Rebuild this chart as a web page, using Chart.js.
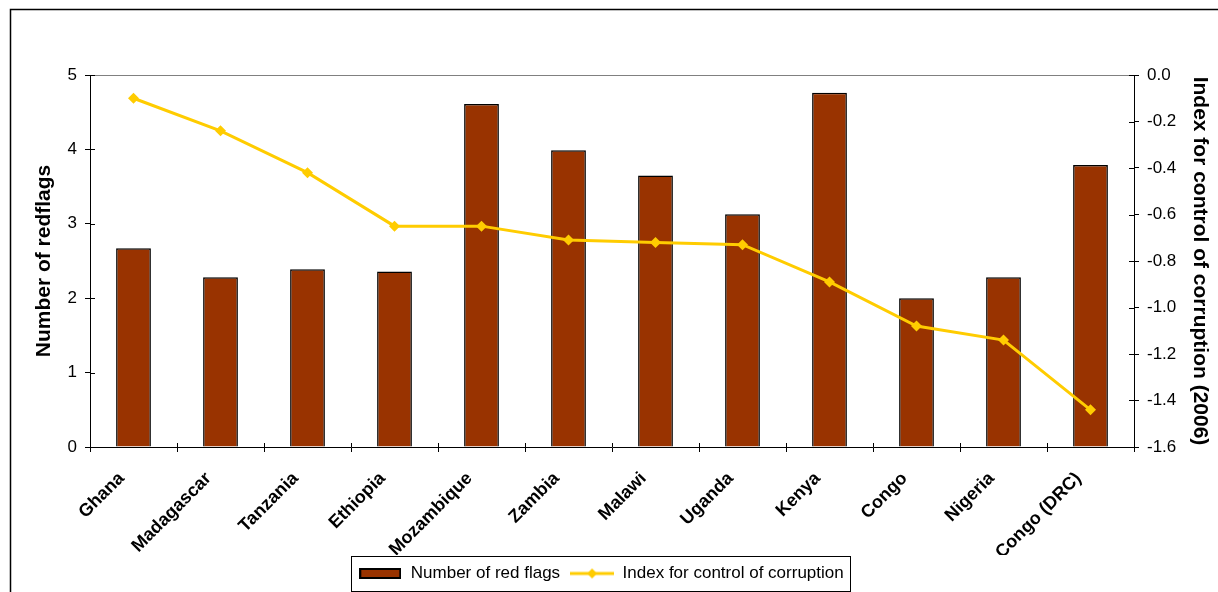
<!DOCTYPE html>
<html>
<head>
<meta charset="utf-8">
<script src="https://cdn.jsdelivr.net/npm/chart.js@4.4.1/dist/chart.umd.min.js"></script>
<style>
  html, body { margin: 0; padding: 0; background: #fff; }
  #wrap { width: 1218px; height: 592px; }
</style>
</head>
<body>
<div id="wrap"><canvas id="chart"></canvas></div>
<script>
// values
const countries = ['Ghana', 'Madagascar', 'Tanzania', 'Ethiopia', 'Mozambique', 'Zambia',
    'Malawi', 'Uganda', 'Kenya', 'Congo', 'Nigeria', 'Congo (DRC)'];
const redFlags = [2.67, 2.28, 2.39, 2.36, 4.61, 3.99, 3.65, 3.13, 4.76, 2.0, 2.28, 3.79];
const corruptionIndex = [-0.10, -0.24, -0.42, -0.65, -0.65, -0.71, -0.72, -0.73, -0.89, -1.08, -1.14, -1.44];
const leftTicks = [0, 1, 2, 3, 4, 5];
const rightTicks = [0, -0.2, -0.4, -0.6, -0.8, -1.0, -1.2, -1.4, -1.6];

const BAR_COLOR = '#993300';
const LINE_COLOR = '#FFCC00';
const FONT = "'Liberation Sans', Arial, sans-serif";

// small canvases used as legend symbols
function makeBarSymbol() {
    const c = document.createElement('canvas');
    c.width = 42; c.height = 11;
    const g = c.getContext('2d');
    g.fillStyle = BAR_COLOR;
    g.fillRect(1, 1, 40, 9);
    g.strokeStyle = '#000';
    g.lineWidth = 2;
    g.strokeRect(1, 1, 40, 9);
    return c;
}

function makeLineSymbol() {
    const c = document.createElement('canvas');
    c.width = 44; c.height = 12;
    const g = c.getContext('2d');
    g.strokeStyle = LINE_COLOR;
    g.lineWidth = 3;
    g.beginPath();
    g.moveTo(0, 6);
    g.lineTo(44, 6);
    g.stroke();
    g.fillStyle = LINE_COLOR;
    g.beginPath();
    g.moveTo(22, 1); g.lineTo(27, 6); g.lineTo(22, 11); g.lineTo(17, 6);
    g.closePath();
    g.fill();
    return c;
}

const barSymbol = makeBarSymbol();
const lineSymbol = makeLineSymbol();

// frame, plot top border, inner halves of tick marks, legend box
const decorations = {
    id: 'decorations',
    afterDraw(chart) {
        const ctx = chart.ctx;
        const area = chart.chartArea;
        const x = chart.scales.x;
        const y = chart.scales.y;
        const y1 = chart.scales.y1;
        ctx.save();

        // outer frame (runs off the right and bottom edges)
        ctx.strokeStyle = '#000';
        ctx.lineWidth = 1.5;
        ctx.beginPath();
        ctx.moveTo(10.5, chart.height + 2);
        ctx.lineTo(10.5, 9.5);
        ctx.lineTo(chart.width + 2, 9.5);
        ctx.stroke();

        // top edge of plot area
        ctx.strokeStyle = '#808080';
        ctx.lineWidth = 1;
        ctx.beginPath();
        ctx.moveTo(area.left, area.top + 0.5);
        ctx.lineTo(area.right, area.top + 0.5);
        ctx.stroke();

        // tick marks crossing into the plot
        ctx.strokeStyle = '#000';
        ctx.beginPath();
        leftTicks.forEach(v => {
            const py = Math.round(y.getPixelForValue(v)) + 0.5;
            ctx.moveTo(area.left, py);
            ctx.lineTo(area.left + 5, py);
        });
        rightTicks.forEach(v => {
            const py = Math.round(y1.getPixelForValue(v)) + 0.5;
            ctx.moveTo(area.right, py);
            ctx.lineTo(area.right - 5, py);
        });
        const half = (x.getPixelForValue(1) - x.getPixelForValue(0)) / 2;
        for (let i = 0; i <= countries.length; i++) {
            const px = Math.round(x.getPixelForValue(i) - half) + 0.5;
            ctx.moveTo(px, area.bottom);
            ctx.lineTo(px, area.bottom - 4);
        }
        ctx.stroke();

        // box round the legend
        const boxes = chart.legend.legendHitBoxes;
        if (boxes && boxes.length) {
            const l = Math.min(...boxes.map(b => b.left)) - 7;
            const r = Math.max(...boxes.map(b => b.left + b.width)) + 7;
            const t = Math.min(...boxes.map(b => b.top)) - 9;
            const b = Math.max(...boxes.map(b => b.top + b.height)) + 9;
            ctx.lineWidth = 1;
            ctx.strokeRect(Math.round(l) + 0.5, Math.round(t) + 0.5, Math.round(r - l), Math.round(b - t));
        }
        ctx.restore();
    }
};

new Chart(document.getElementById('chart'), {
    data: {
        labels: countries,
        datasets: [
            {
                type: 'bar',
                label: 'Number of red flags',
                data: redFlags,
                yAxisID: 'y',
                backgroundColor: BAR_COLOR,
                borderColor: '#000',
                borderWidth: 1.5,
                barPercentage: 0.4,
                categoryPercentage: 1.0,
                order: 1,
            },
            {
                type: 'line',
                label: 'Index for control of corruption',
                data: corruptionIndex,
                yAxisID: 'y1',
                borderColor: LINE_COLOR,
                backgroundColor: LINE_COLOR,
                borderWidth: 3,
                pointStyle: 'rectRot',
                pointRadius: 5.5,
                pointBorderWidth: 0,
                tension: 0,
                order: 0,
            }
        ]
    },
    options: {
        responsive: true,
        maintainAspectRatio: false,
        animation: false,
        // uneven side padding moves the legend centre left to where it sits in the original
        layout: {
            padding: { left: 0, top: 75, right: 16, bottom: 0 },
        },
        plugins: {
            tooltip: { enabled: false },
            legend: {
                position: 'bottom',
                onClick: null,
                labels: {
                    usePointStyle: true,
                    pointStyleWidth: 44,
                    boxHeight: 17,
                    padding: 10,
                    color: '#000',
                    font: { family: FONT, size: 17 },
                    generateLabels: () => [
                        { text: 'Number of red flags', pointStyle: barSymbol, fontColor: '#000', hidden: false, datasetIndex: 0, lineWidth: 0 },
                        { text: 'Index for control of corruption', pointStyle: lineSymbol, fontColor: '#000', hidden: false, datasetIndex: 1, lineWidth: 0 },
                    ],
                }
            }
        },
        scales: {
            x: {
                offset: true,
                afterFit: s => { s.height = 108; },
                grid: {
                    offset: true,
                    drawOnChartArea: false,
                    tickLength: 5,
                    tickColor: '#000',
                },
                border: { color: '#000', width: 1 },
                ticks: {
                    autoSkip: false,
                    maxRotation: 45,
                    minRotation: 45,
                    padding: 16,
                    labelOffset: -12,
                    color: '#000',
                    font: { family: FONT, size: 18, weight: 'bold' },
                }
            },
            y: {
                position: 'left',
                min: 0,
                max: 5,
                afterBuildTicks: s => { s.ticks = leftTicks.map(v => ({ value: v })); },
                afterFit: s => { s.width = 90; },
                grid: {
                    drawOnChartArea: false,
                    tickLength: 5,
                    tickColor: '#000',
                },
                border: { color: '#000', width: 1 },
                ticks: {
                    padding: 8,
                    color: '#000',
                    font: { family: FONT, size: 17 },
                },
                title: {
                    display: true,
                    text: 'Number of redflags',
                    color: '#000',
                    padding: { top: 32, bottom: 0 },
                    font: { family: FONT, size: 21, weight: 'bold' },
                }
            },
            y1: {
                position: 'right',
                min: -1.6,
                max: 0,
                afterBuildTicks: s => { s.ticks = rightTicks.map(v => ({ value: v })); },
                afterFit: s => { s.width = 68; },
                grid: {
                    drawOnChartArea: false,
                    tickLength: 5,
                    tickColor: '#000',
                },
                border: { color: '#000', width: 1 },
                ticks: {
                    padding: 8,
                    color: '#000',
                    font: { family: FONT, size: 17 },
                    callback: v => Number(v).toFixed(1),
                },
                title: {
                    display: true,
                    text: 'Index for control of corruption (2006)',
                    color: '#000',
                    padding: { top: -10, bottom: 0 },
                    font: { family: FONT, size: 21, weight: 'bold' },
                }
            }
        }
    },
    plugins: [decorations]
});
</script>
</body>
</html>
